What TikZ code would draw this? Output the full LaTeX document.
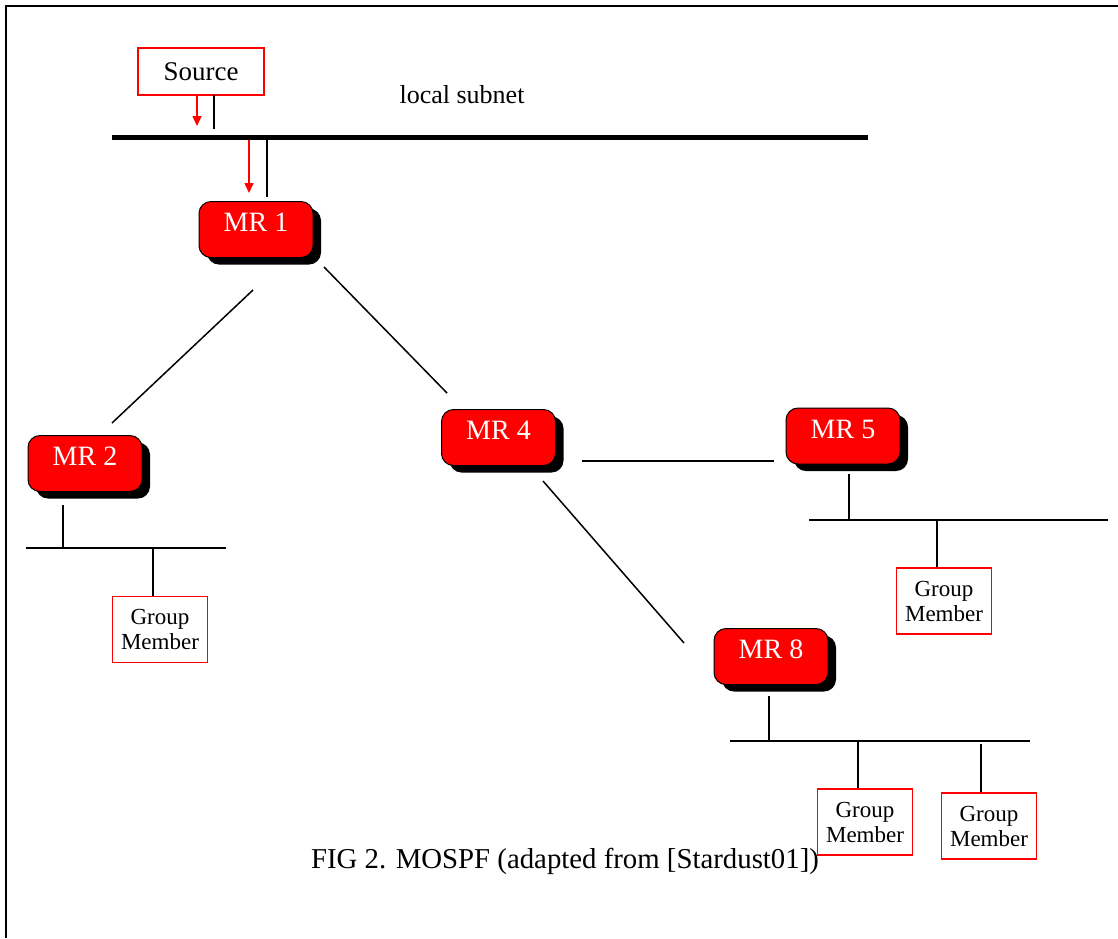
\documentclass[tikz,border=0pt]{standalone}
\usepackage{fontspec}
\setmainfont{Liberation Serif}
\usetikzlibrary{arrows.meta,shadows}
\definecolor{rred}{RGB}{255,0,0}
\tikzset{
  router/.style={rectangle, rounded corners=12pt, fill=rred, draw=black, line width=1pt,
    minimum width=114pt, inner sep=0pt, text height=30pt, text depth=26pt,
    text=white, font=\fontsize{28}{30}\selectfont,
    drop shadow={shadow xshift=8pt, shadow yshift=-7pt, fill=black, opacity=1}},
  member/.style={rectangle, draw=rred, line width=1.5pt, minimum width=95pt,
    minimum height=66pt, inner sep=0pt, align=center, font=\fontsize{23}{25}\selectfont},
  wire/.style={line width=1.5pt, black},
  lan/.style={line width=2pt, black},
  redarrow/.style={line width=1.5pt, rred, -{Triangle[length=10pt,width=9pt]}}
}
\begin{document}
\begin{tikzpicture}[x=1pt,y=-1pt]
\useasboundingbox (0,0) rectangle (1118,938);
\fill[white] (0,0) rectangle (1118,938);
% frame
\draw[line width=2.5pt] (6,938) -- (6,6) -- (1118,6);

% caption
\node[font=\fontsize{28.8}{31}\selectfont, anchor=base] (cap) at (565,868) {FIG 2. MOSPF (adapted from [Stardust01])};

% source and local subnet
\node[member, minimum width=126pt, minimum height=47pt, font=\fontsize{27}{29}\selectfont] (src) at (201,71.5) {Source};
\node[font=\fontsize{26}{28}\selectfont, anchor=base] (lbl) at (462,103) {local subnet};
\coordinate (lanL) at (112,137);
\coordinate (lanR) at (868,137);
\draw[line width=5pt] (lanL) -- (lanR);
\coordinate (a1s) at (197,95);   \coordinate (a1e) at (197,126);
\coordinate (w1s) at (214,95);   \coordinate (w1e) at (214,129);
\draw[redarrow] (a1s) -- (a1e);
\draw[wire] (w1s) -- (w1e);

% routers
\node[router] (mr1) at (256,229.5) {MR 1};
\node[router] (mr2) at (85,463.5) {MR 2};
\node[router] (mr4) at (498.5,437.5) {MR 4};
\node[router] (mr5) at (843,436) {MR 5};
\node[router] (mr8) at (771,656.5) {MR 8};

\coordinate (a2s) at (249,140);  \coordinate (a2e) at (249,193);
\coordinate (w2s) at (267,140);  \coordinate (w2e) at (267,197);
\draw[redarrow] (a2s) -- (a2e);
\draw[wire] (w2s) -- (w2e);

% router links
\coordinate (l12a) at (253,290); \coordinate (l12b) at (112,423);
\coordinate (l14a) at (324,267); \coordinate (l14b) at (447,393);
\coordinate (l45a) at (582,461); \coordinate (l45b) at (774,461);
\coordinate (l48a) at (543,481); \coordinate (l48b) at (684,643);
\draw[wire] (l12a) -- (l12b);
\draw[wire] (l14a) -- (l14b);
\draw[wire] (l45a) -- (l45b);
\draw[wire] (l48a) -- (l48b);

% MR2 subnet
\node[member] (gm2) at (160,629.5) {Group\\Member};
\coordinate (s2L) at (26,548); \coordinate (s2R) at (226,548);
\draw[lan] (s2L) -- (s2R);
\coordinate (d2a) at (63,505); \coordinate (d2b) at (63,548);
\draw[lan] (d2a) -- (d2b);
\coordinate (d2c) at (153,548);
\draw[lan] (d2c) -- (d2c |- gm2.north);

% MR5 subnet
\node[member] (gm5) at (944,601) {Group\\Member};
\coordinate (s5L) at (809,520); \coordinate (s5R) at (1108,520);
\draw[lan] (s5L) -- (s5R);
\coordinate (d5a) at (849,474); \coordinate (d5b) at (849,520);
\draw[lan] (d5a) -- (d5b);
\coordinate (d5c) at (937,520);
\draw[lan] (d5c) -- (d5c |- gm5.north);

% MR8 subnet
\node[member] (gm8a) at (865,822) {Group\\Member};
\node[member] (gm8b) at (989,826) {Group\\Member};
\coordinate (s8L) at (730,741); \coordinate (s8R) at (1030,741);
\draw[lan] (s8L) -- (s8R);
\coordinate (d8a) at (769,696); \coordinate (d8b) at (769,741);
\draw[lan] (d8a) -- (d8b);
\coordinate (d8c) at (858,741);
\draw[lan] (d8c) -- (d8c |- gm8a.north);
\coordinate (d8d) at (981,744);
\draw[lan] (d8d) -- (d8d |- gm8b.north);
\end{tikzpicture}
\end{document}
